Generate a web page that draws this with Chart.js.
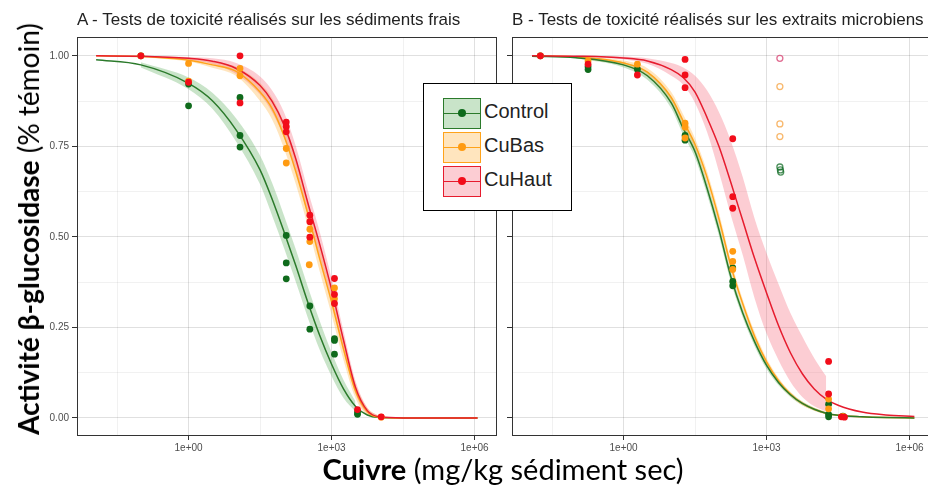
<!DOCTYPE html>
<html>
<head>
<meta charset="utf-8">
<script src="https://cdn.jsdelivr.net/npm/chart.js@4.4.1/dist/chart.umd.min.js"></script>
<style>
  html, body { margin: 0; padding: 0; background: #fff; }
  #wrap { position: relative; width: 928px; height: 488px; overflow: hidden; }
  canvas { position: absolute; top: 0; }
  #cA { left: 0; }
  #cB { left: 505px; }
  .ptitle { position: absolute; top: 10px; font: 17px "Liberation Sans", Arial, sans-serif; color: #222; white-space: nowrap; }
  #xt { position: absolute; left: 503px; top: 451px; transform: translateX(-50%); font: 29px Lato, sans-serif; color: #000; white-space: nowrap; }
  #yt { position: absolute; left: 28px; top: 229px; transform: translate(-50%, -50%) rotate(-90deg); font: 28px Lato, sans-serif; color: #000; white-space: nowrap; }
  #legend { position: absolute; left: 423px; top: 83px; width: 147px; height: 126px; border: 1.5px solid #000; background: #fff; }
  .row { position: absolute; left: 19px; height: 32px; }
  .key { position: absolute; left: 0; top: 0; width: 36px; height: 29px; border: 1.5px solid; }
  .key .ln { position: absolute; left: 0; right: 0; top: 13.5px; height: 1.5px; }
  .key .dot { position: absolute; left: 14px; top: 10px; width: 8px; height: 8px; border-radius: 50%; }
  .lab { position: absolute; left: 41px; top: 2px; font: 20px "Liberation Sans", Arial, sans-serif; color: #222; white-space: nowrap; }
</style>
</head>
<body>
<div id="wrap">
  <canvas id="cA" width="505" height="488"></canvas>
  <canvas id="cB" width="435" height="488"></canvas>
  <div class="ptitle" style="left:77px">A - Tests de toxicité réalisés sur les sédiments frais</div>
  <div class="ptitle" style="left:512px">B - Tests de toxicité réalisés sur les extraits microbiens</div>
  <div id="yt"><b>Activité β-glucosidase</b> (% témoin)</div>
  <div id="xt"><b>Cuivre</b> (mg/kg sédiment sec)</div>
  <div id="legend"></div>
</div>
<script>
// Series
const seriesNames = ['Control', 'CuBas', 'CuHaut'];
const pointColors = ['#0f6b1c', '#ff9b12', '#f20d1a'];
const lineColors = ['#2b7a2b', '#ffa31a', '#e61c2e'];
const bandColors = ['rgba(76,165,76,0.3)', 'rgba(255,170,40,0.3)', 'rgba(245,90,110,0.3)'];
const hollowColors = ['rgba(20,110,40,0.75)', 'rgba(245,160,60,0.75)', 'rgba(215,60,110,0.75)'];

// Axes
const xMin = 0.00457, xMax = 2950000;
const xTicks = [0.0316, 1, 31.6, 1000, 31623, 1000000];
const xTickLabels = ['', '1e+00', '', '1e+03', '', '1e+06'];
const yTicks = [0, 0.125, 0.25, 0.375, 0.5, 0.625, 0.75, 0.875, 1];
const yTickLabels = ['0.00', '', '0.25', '', '0.50', '', '0.75', '', '1.00'];

// A - observations
const aCtrlDose = [0.1, 1, 1, 12, 12, 12, 112, 112, 112, 350, 350, 1150, 1150, 1150, 3500, 3500];
const aCtrlResp = [1.0, 0.922, 0.862, 0.885, 0.78, 0.748, 0.504, 0.428, 0.384, 0.309, 0.245, 0.219, 0.214, 0.176, 0.016, 0.01];
const aBasDose = [0.1, 1, 1, 12, 12, 112, 112, 350, 350, 340, 1150, 1150, 11000];
const aBasResp = [1.0, 0.979, 0.93, 0.965, 0.945, 0.744, 0.704, 0.521, 0.487, 0.423, 0.359, 0.329, 0.002];
const aHautDose = [0.1, 1, 12, 12, 112, 112, 112, 350, 350, 350, 1150, 1150, 1150, 3500, 11000];
const aHautResp = [1.0, 0.927, 1.0, 0.87, 0.817, 0.805, 0.79, 0.56, 0.542, 0.499, 0.385, 0.341, 0.316, 0.023, 0.003];

// A - fitted curves and bands
const gridA = [0.0115, 0.1, 1, 3.16, 10, 31.6, 56.2, 100, 178, 316, 562, 1000, 1778, 3162, 5623, 10000, 31623, 100000, 1150000];
const fitACtrl = [0.989, 0.975, 0.924, 0.876, 0.795, 0.685, 0.605, 0.515, 0.42, 0.32, 0.228, 0.148, 0.08, 0.032, 0.008, 0.001, 0, 0, 0];
const fitABas = [1.0, 0.998, 0.988, 0.975, 0.957, 0.90, 0.855, 0.78, 0.68, 0.565, 0.44, 0.32, 0.19, 0.075, 0.017, 0.002, 0, 0, 0];
const fitAHaut = [1.0, 0.999, 0.993, 0.985, 0.965, 0.918, 0.875, 0.81, 0.715, 0.595, 0.48, 0.355, 0.215, 0.085, 0.02, 0.003, 0, 0, 0];
const bandACtrlHi = [null, 0.982, 0.94, 0.898, 0.827, 0.725, 0.65, 0.56, 0.465, 0.363, 0.268, 0.181, 0.105, 0.046, null, null, null, null, null];
const bandACtrlLo = [null, 0.968, 0.908, 0.854, 0.763, 0.645, 0.56, 0.47, 0.375, 0.277, 0.188, 0.115, 0.055, 0.018, null, null, null, null, null];
const bandABasHi = [null, 0.999, 0.992, 0.983, 0.97, 0.925, 0.885, 0.815, 0.715, 0.60, 0.475, 0.355, 0.215, 0.095, 0.028, 0.005, null, null, null];
const bandABasLo = [null, 0.997, 0.984, 0.967, 0.944, 0.875, 0.825, 0.745, 0.645, 0.53, 0.405, 0.285, 0.16, 0.055, 0.008, 0.0, null, null, null];
const bandAHautHi = [null, 1.0, 0.997, 0.993, 0.98, 0.943, 0.905, 0.845, 0.75, 0.63, 0.515, 0.385, 0.24, 0.103, 0.028, 0.005, null, null, null];
const bandAHautLo = [null, 0.998, 0.989, 0.977, 0.95, 0.893, 0.845, 0.775, 0.68, 0.56, 0.445, 0.325, 0.19, 0.067, 0.012, 0.001, null, null, null];

// B - observations
const bCtrlDose = [0.018, 0.18, 0.18, 1.95, 19.5, 19.5, 195, 195, 195, 20000, 20000, 20000, 40000];
const bCtrlResp = [1.0, 0.97, 0.962, 0.963, 0.78, 0.767, 0.414, 0.377, 0.365, 0.038, 0.01, 0.003, 0.005];
const bBasDose = [0.018, 0.18, 1.95, 19.5, 19.5, 19.5, 195, 195, 195, 20000, 20000, 40000];
const bBasResp = [1.0, 0.986, 0.977, 0.814, 0.803, 0.773, 0.46, 0.432, 0.41, 0.052, 0.025, 0.004];
const bHautDose = [0.018, 0.18, 1.95, 19.5, 19.5, 19.5, 195, 195, 195, 20000, 20000, 37000, 43000];
const bHautResp = [1.0, 0.977, 0.947, 0.99, 0.947, 0.912, 0.771, 0.611, 0.579, 0.156, 0.066, 0.003, 0.002];
// B - excluded observations (open circles)
const bCtrlOutDose = [1900, 1950, 1980];
const bCtrlOutResp = [0.693, 0.685, 0.679];
const bBasOutDose = [1900, 1900, 1900];
const bBasOutResp = [0.915, 0.812, 0.777];
const bHautOutDose = [1900];
const bHautOutResp = [0.993];

// B - fitted curves and bands
const gridB = [0.012, 0.1, 1, 3.16, 10, 17.8, 31.6, 56.2, 100, 178, 316, 562, 1000, 1778, 3162, 5623, 10000, 17783, 31623, 100000, 316228, 1260000];
const fitBCtrl = [0.999, 0.995, 0.975, 0.945, 0.87, 0.80, 0.735, 0.635, 0.52, 0.39, 0.29, 0.21, 0.145, 0.098, 0.064, 0.04, 0.024, 0.013, 0.007, 0.003, 0.001, 0];
const fitBBas = [1.0, 0.997, 0.98, 0.955, 0.885, 0.82, 0.755, 0.665, 0.55, 0.42, 0.315, 0.225, 0.155, 0.103, 0.066, 0.04, 0.024, 0.013, 0.007, 0.003, 0.001, 0];
const fitBHaut = [1.0, 0.999, 0.994, 0.986, 0.962, 0.94, 0.90, 0.83, 0.75, 0.65, 0.545, 0.44, 0.345, 0.255, 0.18, 0.122, 0.08, 0.052, 0.035, 0.016, 0.008, 0.004];
const bandBCtrlHi = [null, 0.997, 0.982, 0.956, 0.885, 0.818, 0.752, 0.652, 0.537, 0.405, 0.303, 0.222, 0.155, 0.106, 0.07, 0.045, 0.028, 0.016, null, null, null, null];
const bandBCtrlLo = [null, 0.993, 0.968, 0.934, 0.855, 0.782, 0.718, 0.618, 0.503, 0.375, 0.277, 0.198, 0.135, 0.09, 0.058, 0.035, 0.02, 0.01, null, null, null, null];
const bandBBasHi = [null, 0.999, 0.987, 0.966, 0.9, 0.838, 0.772, 0.682, 0.567, 0.435, 0.328, 0.237, 0.165, 0.111, 0.072, 0.045, 0.028, 0.016, null, null, null, null];
const bandBBasLo = [null, 0.995, 0.973, 0.944, 0.87, 0.802, 0.738, 0.648, 0.533, 0.405, 0.302, 0.213, 0.145, 0.095, 0.06, 0.035, 0.02, 0.01, null, null, null, null];
const bandBHautHi = [null, 1.0, 0.998, 0.993, 0.98, 0.968, 0.945, 0.905, 0.845, 0.765, 0.665, 0.55, 0.455, 0.37, 0.29, 0.225, 0.165, 0.115, null, null, null, null];
const bandBHautLo = [null, 0.998, 0.99, 0.978, 0.945, 0.92, 0.87, 0.79, 0.68, 0.56, 0.45, 0.33, 0.233, 0.16, 0.1, 0.058, 0.032, 0.018, null, null, null, null];

const xy = (xs, ys) => xs.map((x, i) => ({ x: x, y: ys[i] })).filter(p => p.y !== null);

const pointSet = (xs, ys, s) => ({
  data: xy(xs, ys), showLine: false, order: 0,
  pointRadius: 3.4, pointBorderWidth: 0, pointBackgroundColor: pointColors[s]
});
const hollowSet = (xs, ys, s) => ({
  data: xy(xs, ys), showLine: false, order: 0,
  pointRadius: 3, pointBorderWidth: 1.3, pointBorderColor: hollowColors[s], pointBackgroundColor: 'rgba(0,0,0,0)'
});
const fitSet = (xs, ys, s) => ({
  data: xy(xs, ys), order: 1, borderColor: lineColors[s], borderWidth: 1.5,
  pointRadius: 0, cubicInterpolationMode: 'monotone', fill: false
});
const bandSets = (xs, hi, lo, s) => [
  { data: xy(xs, hi), order: 2, borderWidth: 0, pointRadius: 0, cubicInterpolationMode: 'monotone', fill: '+1', backgroundColor: bandColors[s] },
  { data: xy(xs, lo), order: 2, borderWidth: 0, pointRadius: 0, cubicInterpolationMode: 'monotone', fill: false }
];

const panelBorder = {
  id: 'panelBorder',
  afterDatasetsDraw(chart) {
    const a = chart.chartArea, ctx = chart.ctx;
    ctx.save();
    ctx.strokeStyle = '#333';
    ctx.lineWidth = 1;
    ctx.strokeRect(Math.round(a.left) + 0.5, Math.round(a.top) + 0.5, Math.round(a.right - a.left) - 1, Math.round(a.bottom - a.top) - 1);
    ctx.restore();
  }
};

const makeOptions = (showYLabels, pad) => ({
  responsive: false,
  animation: false,
  layout: { padding: pad },
  plugins: { legend: { display: false }, tooltip: { enabled: false } },
  scales: {
    x: {
      type: 'logarithmic', min: xMin, max: xMax,
      afterBuildTicks: (scale) => { scale.ticks = xTicks.map(v => ({ value: v })); },
      afterFit: (scale) => { scale.height = 30; },
      border: { display: false },
      grid: {
        color: (c) => (xTickLabels[c.index] ? 'rgba(0,0,0,0.12)' : 'rgba(0,0,0,0.055)'),
        tickColor: (c) => (xTickLabels[c.index] ? '#333' : 'rgba(0,0,0,0)'),
        tickLength: 4
      },
      ticks: {
        autoSkip: false, maxRotation: 0, padding: 2,
        color: '#4d4d4d', font: { family: '"Liberation Sans", Arial, sans-serif', size: 10 },
        callback: (v, i) => xTickLabels[i]
      }
    },
    y: {
      min: -0.05, max: 1.052,
      afterBuildTicks: (scale) => { scale.ticks = yTicks.map(v => ({ value: v })); },
      afterFit: (scale) => { scale.width = showYLabels ? 40 : 7; },
      border: { display: false },
      grid: {
        color: (c) => (yTickLabels[c.index] ? 'rgba(0,0,0,0.12)' : 'rgba(0,0,0,0.055)'),
        tickColor: (c) => (yTickLabels[c.index] ? '#333' : 'rgba(0,0,0,0)'),
        tickLength: 5
      },
      ticks: {
        padding: 3,
        color: '#4d4d4d', font: { family: '"Liberation Sans", Arial, sans-serif', size: 10 },
        callback: (v, i) => (showYLabels ? yTickLabels[i] : '')
      }
    }
  }
});

new Chart(document.getElementById('cA'), {
  type: 'line',
  data: {
    datasets: [
      pointSet(aHautDose, aHautResp, 2),
      pointSet(aBasDose, aBasResp, 1),
      pointSet(aCtrlDose, aCtrlResp, 0),
      fitSet(gridA, fitAHaut, 2),
      fitSet(gridA, fitABas, 1),
      fitSet(gridA, fitACtrl, 0),
      ...bandSets(gridA, bandAHautHi, bandAHautLo, 2),
      ...bandSets(gridA, bandABasHi, bandABasLo, 1),
      ...bandSets(gridA, bandACtrlHi, bandACtrlLo, 0)
    ]
  },
  options: makeOptions(true, { left: 37, right: 8, top: 37, bottom: 22 }),
  plugins: [panelBorder]
});

new Chart(document.getElementById('cB'), {
  type: 'line',
  data: {
    datasets: [
      pointSet(bHautDose, bHautResp, 2),
      pointSet(bBasDose, bBasResp, 1),
      pointSet(bCtrlDose, bCtrlResp, 0),
      hollowSet(bHautOutDose, bHautOutResp, 2),
      hollowSet(bBasOutDose, bBasOutResp, 1),
      hollowSet(bCtrlOutDose, bCtrlOutResp, 0),
      fitSet(gridB, fitBHaut, 2),
      fitSet(gridB, fitBCtrl, 0),
      fitSet(gridB, fitBBas, 1),
      ...bandSets(gridB, bandBHautHi, bandBHautLo, 2),
      ...bandSets(gridB, bandBBasHi, bandBBasLo, 1),
      ...bandSets(gridB, bandBCtrlHi, bandBCtrlLo, 0)
    ]
  },
  options: makeOptions(false, { left: 0, right: 8, top: 37, bottom: 22 }),
  plugins: [panelBorder]
});

// Legend
const legend = document.getElementById('legend');
seriesNames.forEach((name, s) => {
  const row = document.createElement('div');
  row.className = 'row';
  row.style.top = (14 + s * 34) + 'px';
  row.innerHTML =
    '<div class="key" style="border-color:' + lineColors[s] + ';background:' + bandColors[s] + '">' +
    '<div class="ln" style="background:' + lineColors[s] + '"></div>' +
    '<div class="dot" style="background:' + pointColors[s] + '"></div></div>' +
    '<div class="lab">' + name + '</div>';
  legend.appendChild(row);
});
</script>
</body>
</html>
